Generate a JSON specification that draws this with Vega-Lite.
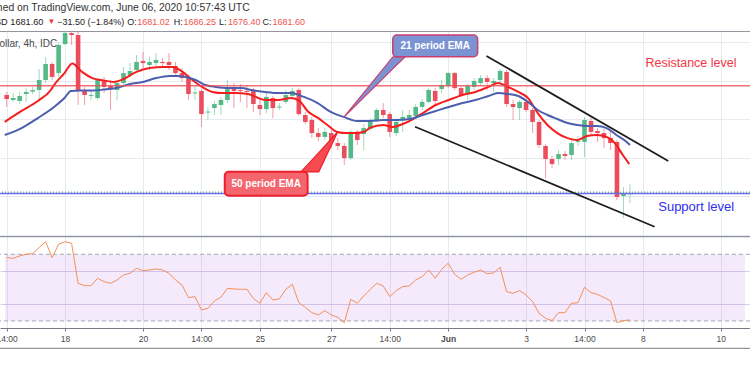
{
"$schema": "https://vega.github.io/schema/vega-lite/v6.json",
"width": 750, "height": 328,
"autosize": {"type": "none"},
"padding": {"left": 0, "top": 0, "right": 0, "bottom": 47},
"background": "white",
"config": {"view": {"stroke": null}, "font": "Liberation Sans", "axis": {"titleOpacity": 0}},
"datasets": {
"candles": [
{"i":0,"o":1732.6,"h":1734.2,"l":1726.4,"c":1730.5},
{"i":1,"o":1730.0,"h":1733.6,"l":1729.0,"c":1731.0},
{"i":2,"o":1729.5,"h":1734.2,"l":1727.9,"c":1732.1},
{"i":3,"o":1733.1,"h":1736.2,"l":1729.0,"c":1734.2},
{"i":4,"o":1734.4,"h":1736.8,"l":1733.1,"c":1735.2},
{"i":5,"o":1735.2,"h":1746.1,"l":1729.0,"c":1740.4},
{"i":6,"o":1740.4,"h":1752.4,"l":1738.8,"c":1748.7},
{"i":7,"o":1748.7,"h":1749.8,"l":1740.4,"c":1742.0},
{"i":8,"o":1744.0,"h":1759.6,"l":1742.0,"c":1758.6},
{"i":9,"o":1759.1,"h":1765.4,"l":1758.6,"c":1764.8},
{"i":10,"o":1764.8,"h":1765.4,"l":1758.6,"c":1763.8},
{"i":11,"o":1763.8,"h":1765.4,"l":1727.4,"c":1735.2},
{"i":12,"o":1735.2,"h":1736.8,"l":1727.4,"c":1732.6},
{"i":13,"o":1732.1,"h":1735.2,"l":1730.0,"c":1732.6},
{"i":14,"o":1731.0,"h":1741.4,"l":1730.0,"c":1740.4},
{"i":15,"o":1740.4,"h":1742.0,"l":1733.6,"c":1736.8},
{"i":16,"o":1737.3,"h":1740.4,"l":1724.8,"c":1735.7},
{"i":17,"o":1735.2,"h":1740.4,"l":1730.0,"c":1738.8},
{"i":18,"o":1738.8,"h":1747.2,"l":1737.8,"c":1744.0},
{"i":19,"o":1743.0,"h":1749.2,"l":1742.0,"c":1745.1},
{"i":20,"o":1745.6,"h":1753.4,"l":1744.6,"c":1749.8},
{"i":21,"o":1750.3,"h":1755.0,"l":1746.6,"c":1749.2},
{"i":22,"o":1748.2,"h":1752.4,"l":1745.6,"c":1749.8},
{"i":23,"o":1749.2,"h":1754.4,"l":1747.7,"c":1750.8},
{"i":24,"o":1749.8,"h":1751.8,"l":1746.6,"c":1749.2},
{"i":25,"o":1749.8,"h":1754.4,"l":1745.6,"c":1748.2},
{"i":26,"o":1747.7,"h":1749.8,"l":1742.0,"c":1744.0},
{"i":27,"o":1744.0,"h":1746.6,"l":1739.4,"c":1741.4},
{"i":28,"o":1742.0,"h":1743.0,"l":1730.0,"c":1733.1},
{"i":29,"o":1733.4,"h":1737.8,"l":1730.0,"c":1733.9},
{"i":30,"o":1734.7,"h":1735.7,"l":1716.0,"c":1722.7},
{"i":31,"o":1723.5,"h":1726.4,"l":1719.6,"c":1724.0},
{"i":32,"o":1725.8,"h":1729.5,"l":1722.2,"c":1727.9},
{"i":33,"o":1727.4,"h":1731.6,"l":1722.2,"c":1730.0},
{"i":34,"o":1730.0,"h":1740.4,"l":1728.4,"c":1735.7},
{"i":35,"o":1735.7,"h":1738.8,"l":1725.8,"c":1734.7},
{"i":36,"o":1735.2,"h":1738.3,"l":1729.0,"c":1734.7},
{"i":37,"o":1734.7,"h":1737.8,"l":1725.8,"c":1734.2},
{"i":38,"o":1734.7,"h":1736.2,"l":1723.8,"c":1727.9},
{"i":39,"o":1727.4,"h":1730.0,"l":1722.2,"c":1725.3},
{"i":40,"o":1725.3,"h":1734.2,"l":1723.2,"c":1731.6},
{"i":41,"o":1731.0,"h":1732.1,"l":1720.6,"c":1725.8},
{"i":42,"o":1726.1,"h":1728.4,"l":1724.8,"c":1726.6},
{"i":43,"o":1729.0,"h":1735.2,"l":1727.9,"c":1732.6},
{"i":44,"o":1732.1,"h":1736.2,"l":1731.0,"c":1734.7},
{"i":45,"o":1735.2,"h":1736.2,"l":1721.7,"c":1722.7},
{"i":46,"o":1722.2,"h":1723.8,"l":1717.5,"c":1718.6},
{"i":47,"o":1719.6,"h":1721.2,"l":1710.2,"c":1712.8},
{"i":48,"o":1712.8,"h":1715.4,"l":1708.7,"c":1710.8},
{"i":49,"o":1710.8,"h":1715.4,"l":1709.2,"c":1713.4},
{"i":50,"o":1712.8,"h":1714.4,"l":1705.0,"c":1708.2},
{"i":51,"o":1707.6,"h":1710.2,"l":1704.0,"c":1706.1},
{"i":52,"o":1706.1,"h":1707.6,"l":1696.2,"c":1699.8},
{"i":53,"o":1699.8,"h":1714.4,"l":1698.8,"c":1713.4},
{"i":54,"o":1713.4,"h":1714.4,"l":1706.6,"c":1709.2},
{"i":55,"o":1712.3,"h":1717.5,"l":1704.0,"c":1715.4},
{"i":56,"o":1714.9,"h":1720.6,"l":1713.9,"c":1719.1},
{"i":57,"o":1719.1,"h":1725.8,"l":1718.6,"c":1724.8},
{"i":58,"o":1724.8,"h":1728.4,"l":1720.6,"c":1722.2},
{"i":59,"o":1722.7,"h":1723.8,"l":1710.8,"c":1713.4},
{"i":60,"o":1712.8,"h":1720.6,"l":1711.3,"c":1718.6},
{"i":61,"o":1719.6,"h":1724.8,"l":1713.4,"c":1721.2},
{"i":62,"o":1720.6,"h":1724.8,"l":1719.6,"c":1722.2},
{"i":63,"o":1721.7,"h":1727.9,"l":1720.1,"c":1726.4},
{"i":64,"o":1726.4,"h":1730.5,"l":1724.8,"c":1729.0},
{"i":65,"o":1729.0,"h":1736.2,"l":1728.4,"c":1735.2},
{"i":66,"o":1734.7,"h":1736.2,"l":1726.9,"c":1729.5},
{"i":67,"o":1735.7,"h":1740.4,"l":1733.6,"c":1737.8},
{"i":68,"o":1737.3,"h":1744.6,"l":1736.2,"c":1744.0},
{"i":69,"o":1744.0,"h":1744.6,"l":1735.2,"c":1736.2},
{"i":70,"o":1736.2,"h":1737.3,"l":1731.6,"c":1732.6},
{"i":71,"o":1733.6,"h":1738.3,"l":1730.0,"c":1737.3},
{"i":72,"o":1736.8,"h":1741.4,"l":1735.2,"c":1739.9},
{"i":73,"o":1738.8,"h":1743.0,"l":1737.3,"c":1741.4},
{"i":74,"o":1741.4,"h":1743.0,"l":1735.2,"c":1739.4},
{"i":75,"o":1738.8,"h":1741.4,"l":1734.2,"c":1739.9},
{"i":76,"o":1740.4,"h":1746.1,"l":1737.8,"c":1745.1},
{"i":77,"o":1744.6,"h":1745.6,"l":1726.4,"c":1727.9},
{"i":78,"o":1727.9,"h":1730.0,"l":1719.6,"c":1726.4},
{"i":79,"o":1725.8,"h":1730.0,"l":1719.6,"c":1729.0},
{"i":80,"o":1729.0,"h":1729.5,"l":1723.8,"c":1724.8},
{"i":81,"o":1724.8,"h":1725.8,"l":1712.8,"c":1718.6},
{"i":82,"o":1718.6,"h":1719.6,"l":1705.0,"c":1706.6},
{"i":83,"o":1706.1,"h":1707.1,"l":1689.4,"c":1699.3},
{"i":84,"o":1699.3,"h":1700.9,"l":1694.6,"c":1696.7},
{"i":85,"o":1699.3,"h":1704.0,"l":1696.2,"c":1701.9},
{"i":86,"o":1701.9,"h":1703.5,"l":1698.8,"c":1700.9},
{"i":87,"o":1701.4,"h":1709.2,"l":1698.8,"c":1707.6},
{"i":88,"o":1708.2,"h":1711.3,"l":1706.1,"c":1708.7},
{"i":89,"o":1708.2,"h":1721.2,"l":1700.4,"c":1719.6},
{"i":90,"o":1719.1,"h":1720.6,"l":1711.8,"c":1713.4},
{"i":91,"o":1713.9,"h":1715.4,"l":1708.2,"c":1712.8},
{"i":92,"o":1712.8,"h":1714.9,"l":1705.0,"c":1710.2},
{"i":93,"o":1710.2,"h":1713.4,"l":1704.0,"c":1707.6},
{"i":94,"o":1708.2,"h":1709.2,"l":1678.0,"c":1679.6},
{"i":95,"o":1680.1,"h":1684.8,"l":1668.6,"c":1681.6},
{"i":96,"o":1681.02,"h":1686.25,"l":1676.4,"c":1681.6}
],
"ema": [
{"s":"EMA 50","i":-0.3,"p":1718.6},{"s":"EMA 50","i":2.3,"p":1724.3},{"s":"EMA 50","i":4.8,"p":1729.5},{"s":"EMA 50","i":6.8,"p":1735.2},{"s":"EMA 50","i":7.3,"p":1737.8},{"s":"EMA 50","i":8.9,"p":1744.0},{"s":"EMA 50","i":10.1,"p":1749.0},{"s":"EMA 50","i":11.6,"p":1744.6},{"s":"EMA 50","i":13.2,"p":1741.4},{"s":"EMA 50","i":14.9,"p":1740.2},{"s":"EMA 50","i":16.5,"p":1739.4},{"s":"EMA 50","i":18.0,"p":1740.9},{"s":"EMA 50","i":20.0,"p":1744.6},{"s":"EMA 50","i":22.0,"p":1746.6},{"s":"EMA 50","i":24.1,"p":1747.2},{"s":"EMA 50","i":25.6,"p":1747.2},{"s":"EMA 50","i":27.1,"p":1744.6},{"s":"EMA 50","i":28.6,"p":1740.4},{"s":"EMA 50","i":30.1,"p":1736.8},{"s":"EMA 50","i":31.7,"p":1734.2},{"s":"EMA 50","i":33.2,"p":1733.6},{"s":"EMA 50","i":35.2,"p":1733.6},{"s":"EMA 50","i":37.2,"p":1733.1},{"s":"EMA 50","i":39.8,"p":1730.0},{"s":"EMA 50","i":41.8,"p":1730.0},{"s":"EMA 50","i":43.8,"p":1731.0},{"s":"EMA 50","i":45.1,"p":1729.5},{"s":"EMA 50","i":46.4,"p":1724.0},{"s":"EMA 50","i":47.9,"p":1720.8},{"s":"EMA 50","i":49.4,"p":1717.0},{"s":"EMA 50","i":50.9,"p":1713.4},{"s":"EMA 50","i":52.4,"p":1712.8},{"s":"EMA 50","i":53.4,"p":1712.8},{"s":"EMA 50","i":55.0,"p":1713.4},{"s":"EMA 50","i":56.0,"p":1715.6},{"s":"EMA 50","i":58.0,"p":1717.0},{"s":"EMA 50","i":59.5,"p":1716.0},{"s":"EMA 50","i":61.0,"p":1717.5},{"s":"EMA 50","i":62.6,"p":1720.1},{"s":"EMA 50","i":64.1,"p":1723.2},{"s":"EMA 50","i":66.1,"p":1727.4},{"s":"EMA 50","i":68.1,"p":1730.0},{"s":"EMA 50","i":70.2,"p":1732.6},{"s":"EMA 50","i":72.2,"p":1734.2},{"s":"EMA 50","i":74.2,"p":1736.8},{"s":"EMA 50","i":75.7,"p":1738.8},{"s":"EMA 50","i":77.2,"p":1736.8},{"s":"EMA 50","i":78.8,"p":1734.2},{"s":"EMA 50","i":80.3,"p":1731.0},{"s":"EMA 50","i":81.8,"p":1723.2},{"s":"EMA 50","i":83.3,"p":1717.0},{"s":"EMA 50","i":84.8,"p":1712.8},{"s":"EMA 50","i":86.4,"p":1710.2},{"s":"EMA 50","i":87.9,"p":1709.2},{"s":"EMA 50","i":89.4,"p":1711.3},{"s":"EMA 50","i":90.9,"p":1711.8},{"s":"EMA 50","i":92.4,"p":1710.8},{"s":"EMA 50","i":93.9,"p":1706.6},{"s":"EMA 50","i":94.9,"p":1701.4},{"s":"EMA 50","i":95.9,"p":1696.7},
{"s":"EMA 21","i":-0.3,"p":1711.8},{"s":"EMA 21","i":2.3,"p":1715.4},{"s":"EMA 21","i":4.8,"p":1720.6},{"s":"EMA 21","i":7.3,"p":1726.4},{"s":"EMA 21","i":8.9,"p":1731.0},{"s":"EMA 21","i":9.9,"p":1734.7},{"s":"EMA 21","i":11.4,"p":1734.9},{"s":"EMA 21","i":13.2,"p":1734.9},{"s":"EMA 21","i":14.9,"p":1735.4},{"s":"EMA 21","i":17.0,"p":1736.4},{"s":"EMA 21","i":19.0,"p":1738.3},{"s":"EMA 21","i":21.0,"p":1739.4},{"s":"EMA 21","i":23.0,"p":1741.4},{"s":"EMA 21","i":25.1,"p":1742.5},{"s":"EMA 21","i":26.1,"p":1742.5},{"s":"EMA 21","i":27.6,"p":1742.0},{"s":"EMA 21","i":29.1,"p":1740.4},{"s":"EMA 21","i":30.6,"p":1737.8},{"s":"EMA 21","i":32.2,"p":1736.8},{"s":"EMA 21","i":34.2,"p":1736.2},{"s":"EMA 21","i":36.2,"p":1736.2},{"s":"EMA 21","i":37.7,"p":1735.2},{"s":"EMA 21","i":39.8,"p":1734.2},{"s":"EMA 21","i":41.8,"p":1733.6},{"s":"EMA 21","i":43.8,"p":1733.6},{"s":"EMA 21","i":45.8,"p":1731.6},{"s":"EMA 21","i":47.9,"p":1728.4},{"s":"EMA 21","i":49.9,"p":1723.8},{"s":"EMA 21","i":51.9,"p":1721.2},{"s":"EMA 21","i":54.0,"p":1719.1},{"s":"EMA 21","i":56.0,"p":1719.1},{"s":"EMA 21","i":58.0,"p":1719.6},{"s":"EMA 21","i":60.0,"p":1719.6},{"s":"EMA 21","i":62.1,"p":1720.1},{"s":"EMA 21","i":64.1,"p":1722.2},{"s":"EMA 21","i":66.1,"p":1724.3},{"s":"EMA 21","i":68.1,"p":1726.4},{"s":"EMA 21","i":70.2,"p":1728.4},{"s":"EMA 21","i":72.2,"p":1730.0},{"s":"EMA 21","i":74.2,"p":1732.1},{"s":"EMA 21","i":75.7,"p":1733.6},{"s":"EMA 21","i":77.2,"p":1733.1},{"s":"EMA 21","i":78.8,"p":1732.1},{"s":"EMA 21","i":80.3,"p":1729.0},{"s":"EMA 21","i":81.8,"p":1724.8},{"s":"EMA 21","i":83.3,"p":1722.2},{"s":"EMA 21","i":84.8,"p":1720.1},{"s":"EMA 21","i":86.4,"p":1718.0},{"s":"EMA 21","i":87.9,"p":1717.0},{"s":"EMA 21","i":89.4,"p":1716.5},{"s":"EMA 21","i":90.9,"p":1716.5},{"s":"EMA 21","i":92.4,"p":1715.4},{"s":"EMA 21","i":93.9,"p":1711.8},{"s":"EMA 21","i":95.5,"p":1708.2},{"s":"EMA 21","i":96.0,"p":1706.6}
],
"rsi": [
{"i":0,"r":68.0},{"i":1,"r":67.6},{"i":2,"r":69.0},{"i":3,"r":70.0},{"i":4,"r":70.4},{"i":5,"r":74.0},{"i":6,"r":77.6},{"i":7,"r":68.0},{"i":8,"r":76.0},{"i":9,"r":77.6},
{"i":10,"r":76.6},{"i":11,"r":52.6},{"i":12,"r":51.2},{"i":13,"r":51.2},{"i":14,"r":55.6},{"i":15,"r":53.6},{"i":16,"r":52.6},{"i":17,"r":54.6},{"i":18,"r":57.6},{"i":19,"r":58.6},
{"i":20,"r":61.6},{"i":21,"r":60.2},{"i":22,"r":60.6},{"i":23,"r":61.2},{"i":24,"r":60.6},{"i":25,"r":58.6},{"i":26,"r":54.6},{"i":27,"r":51.6},{"i":28,"r":44.0},{"i":29,"r":44.6},
{"i":30,"r":36.6},{"i":31,"r":37.6},{"i":32,"r":42.0},{"i":33,"r":44.2},{"i":34,"r":49.6},{"i":35,"r":49.2},{"i":36,"r":49.0},{"i":37,"r":49.0},{"i":38,"r":43.5},{"i":39,"r":40.6},
{"i":40,"r":47.0},{"i":41,"r":42.6},{"i":42,"r":43.2},{"i":43,"r":49.0},{"i":44,"r":52.0},{"i":45,"r":41.0},{"i":46,"r":38.2},{"i":47,"r":35.0},{"i":48,"r":33.6},{"i":49,"r":36.2},
{"i":50,"r":33.6},{"i":51,"r":32.2},{"i":52,"r":29.0},{"i":53,"r":43.0},{"i":54,"r":40.6},{"i":55,"r":45.0},{"i":56,"r":49.0},{"i":57,"r":52.6},{"i":58,"r":51.0},{"i":59,"r":44.6},
{"i":60,"r":48.2},{"i":61,"r":50.6},{"i":62,"r":51.0},{"i":63,"r":54.6},{"i":64,"r":56.6},{"i":65,"r":60.6},{"i":66,"r":55.6},{"i":67,"r":61.0},{"i":68,"r":64.6},{"i":69,"r":58.0},
{"i":70,"r":55.0},{"i":71,"r":57.6},{"i":72,"r":59.2},{"i":73,"r":60.6},{"i":74,"r":58.4},{"i":75,"r":58.8},{"i":76,"r":62.2},{"i":77,"r":47.6},{"i":78,"r":46.6},{"i":79,"r":48.2},
{"i":80,"r":45.6},{"i":81,"r":41.6},{"i":82,"r":34.6},{"i":83,"r":31.6},{"i":84,"r":30.2},{"i":85,"r":35.0},{"i":86,"r":35.0},{"i":87,"r":40.6},{"i":88,"r":41.0},{"i":89,"r":50.2},
{"i":90,"r":47.0},{"i":91,"r":46.0},{"i":92,"r":44.0},{"i":93,"r":42.2},{"i":94,"r":29.0},{"i":95,"r":30.2},{"i":96,"r":30.6}
],
"ptr21": [{"i":51.91,"top":1721.0,"bot":1721.0},{"i":59.5,"top":1752.5,"bot":1746.3},{"i":61.37,"top":1752.5,"bot":1752.5}],
"ptr50": [{"i":45.33,"top":1692.6,"bot":1692.6},{"i":48.07,"top":1702.6,"bot":1692.6},{"i":51.0,"top":1713.5,"bot":1713.5}]
},
"resolve": {"scale": {"y": "independent"}},
"layer": [
{
"layer": [
{"data": {"values": [{}]}, "mark": {"type": "rect", "color": "white"},
 "encoding": {"x": {"datum": -0.258, "type": "quantitative"}, "x2": {"datum": 113.72}, "y": {"datum": 1782, "type": "quantitative"}, "y2": {"datum": 1765.9}}},
{"data": {"values": [{}]}, "mark": {"type": "rule", "color": "#8f929b", "strokeWidth": 1},
 "encoding": {"y": {"datum": 1765.6, "type": "quantitative"}}},
{"data": {"values": [{}]}, "mark": {"type": "text", "text": "Gold Spot / U.S. Dollar, 4h, IDC", "align": "right", "baseline": "middle", "fontSize": 10, "color": "#4a4a4a"},
 "encoding": {"x": {"datum": 7.8, "type": "quantitative"}, "y": {"datum": 1759.1, "type": "quantitative"}}},
{"data": {"name": "candles"}, "mark": {"type": "rule", "strokeWidth": 1, "opacity": 0.55},
 "encoding": {
  "x": {"field": "i", "type": "quantitative", "scale": {"domain": [-0.258, 113.72], "nice": false, "zero": false}},
  "y": {"field": "l", "type": "quantitative", "scale": {"domain": [1611.44, 1782], "nice": false, "zero": false},
        "axis": {"values": [1660, 1680, 1700, 1720, 1740, 1760], "grid": true, "gridColor": "#e6ebf2", "labels": false, "ticks": false, "domain": false, "title": null}},
  "y2": {"field": "h"},
  "color": {"condition": {"test": "datum.c >= datum.o", "value": "#53b987"}, "value": "#eb4d5c"}}},
{"data": {"name": "candles"}, "mark": {"type": "bar", "size": 4.6, "orient": "vertical"},
 "encoding": {
  "x": {"field": "i", "type": "quantitative"},
  "y": {"field": "o", "type": "quantitative"},
  "y2": {"field": "c"},
  "color": {"condition": {"test": "datum.c >= datum.o", "value": "#53b987"}, "value": "#eb4d5c"}}},
{"data": {"name": "ema"}, "mark": {"type": "line", "strokeWidth": 2, "interpolate": "monotone"},
 "encoding": {
  "x": {"field": "i", "type": "quantitative"},
  "y": {"field": "p", "type": "quantitative"},
  "color": {"field": "s", "type": "nominal", "scale": {"domain": ["EMA 21", "EMA 50"], "range": ["#4b5fae", "#f51e1e"]}, "legend": null}}},
{"data": {"values": [{}]}, "mark": {"type": "rule", "color": "#f04a55", "strokeWidth": 1.6, "opacity": 0.8},
 "encoding": {"y": {"datum": 1737.4, "type": "quantitative"}}},
{"data": {"values": [{}]}, "mark": {"type": "rule", "color": "#6a6af2", "strokeWidth": 1.5},
 "encoding": {"y": {"datum": 1681.4, "type": "quantitative"}}},
{"data": {"values": [{}]}, "mark": {"type": "rule", "color": "#43a047", "strokeWidth": 1, "strokeDash": [1, 2]},
 "encoding": {"y": {"datum": 1682.1, "type": "quantitative"}}},
{"data": {"values": [{}]}, "mark": {"type": "rule", "color": "#1e1e1e", "strokeWidth": 1.8},
 "encoding": {"x": {"datum": 73.9, "type": "quantitative"}, "x2": {"datum": 101.9}, "y": {"datum": 1752.9, "type": "quantitative"}, "y2": {"datum": 1698.3}}},
{"data": {"values": [{}]}, "mark": {"type": "rule", "color": "#1e1e1e", "strokeWidth": 1.8},
 "encoding": {"x": {"datum": 62.9, "type": "quantitative"}, "x2": {"datum": 99.8}, "y": {"datum": 1716.1, "type": "quantitative"}, "y2": {"datum": 1664.1}}},
{"data": {"name": "ptr21"}, "mark": {"type": "area", "fill": "#7b92d3", "stroke": "#c8416e", "strokeWidth": 1.2, "orient": "vertical"},
 "encoding": {"x": {"field": "i", "type": "quantitative"}, "y": {"field": "top", "type": "quantitative"}, "y2": {"field": "bot"}}},
{"data": {"values": [{}]}, "mark": {"type": "rect", "fill": "#7b92d3", "stroke": "#c8416e", "strokeWidth": 1.5, "cornerRadius": 4},
 "encoding": {"x": {"datum": 59.47, "type": "quantitative"}, "x2": {"datum": 72.54}, "y": {"datum": 1763.8, "type": "quantitative"}, "y2": {"datum": 1752.5}}},
{"data": {"values": [{}]}, "mark": {"type": "text", "text": "21 period EMA", "align": "center", "baseline": "middle", "fontSize": 10, "fontWeight": "bold", "color": "white"},
 "encoding": {"x": {"datum": 66.0, "type": "quantitative"}, "y": {"datum": 1758.2, "type": "quantitative"}}},
{"data": {"name": "ptr50"}, "mark": {"type": "area", "fill": "#f54a50", "stroke": "#f01e2c", "strokeWidth": 1.2, "orient": "vertical"},
 "encoding": {"x": {"field": "i", "type": "quantitative"}, "y": {"field": "top", "type": "quantitative"}, "y2": {"field": "bot"}}},
{"data": {"values": [{}]}, "mark": {"type": "rect", "fill": "#f4666e", "stroke": "#f01e2c", "strokeWidth": 2, "cornerRadius": 4},
 "encoding": {"x": {"datum": 33.59, "type": "quantitative"}, "x2": {"datum": 46.35}, "y": {"datum": 1692.7, "type": "quantitative"}, "y2": {"datum": 1680.2}}},
{"data": {"values": [{}]}, "mark": {"type": "text", "text": "50 period EMA", "align": "center", "baseline": "middle", "fontSize": 10, "fontWeight": "bold", "color": "white"},
 "encoding": {"x": {"datum": 39.97, "type": "quantitative"}, "y": {"datum": 1686.5, "type": "quantitative"}}},
{"data": {"values": [{}]}, "mark": {"type": "text", "text": "Resistance level", "align": "center", "baseline": "middle", "fontSize": 12.5, "color": "#f23645"},
 "encoding": {"x": {"datum": 105.4, "type": "quantitative"}, "y": {"datum": 1749.0, "type": "quantitative"}}},
{"data": {"values": [{}]}, "mark": {"type": "text", "text": "Support level", "align": "center", "baseline": "middle", "fontSize": 13, "color": "#2e2ef0"},
 "encoding": {"x": {"datum": 106.2, "type": "quantitative"}, "y": {"datum": 1674.6, "type": "quantitative"}}},
{"data": {"values": [{}]}, "mark": {"type": "text", "text": "Published on TradingView.com, June 06, 2020 10:57:43 UTC", "align": "right", "baseline": "middle", "fontSize": 10.4, "color": "#333333"},
 "encoding": {"x": {"datum": 37.43, "type": "quantitative"}, "y": {"datum": 1777.9, "type": "quantitative"}}},
{"data": {"values": [{}]}, "mark": {"type": "text", "text": "IDC:XAUUSD 1681.60", "align": "right", "baseline": "middle", "fontSize": 9.2, "color": "#222222"},
 "encoding": {"x": {"datum": 5.67, "type": "quantitative"}, "y": {"datum": 1770.6, "type": "quantitative"}}},
{"data": {"values": [{}]}, "mark": {"type": "text", "text": "▼", "align": "left", "baseline": "middle", "fontSize": 8, "color": "#f23645"},
 "encoding": {"x": {"datum": 6.28, "type": "quantitative"}, "y": {"datum": 1770.6, "type": "quantitative"}}},
{"data": {"values": [{}]}, "mark": {"type": "text", "text": "−31.50 (−1.84%)", "align": "left", "baseline": "middle", "fontSize": 9, "color": "#222222"},
 "encoding": {"x": {"datum": 7.8, "type": "quantitative"}, "y": {"datum": 1770.6, "type": "quantitative"}}},
{"data": {"values": [{}]}, "mark": {"type": "text", "text": "O:", "align": "left", "baseline": "middle", "fontSize": 9, "color": "#222222"},
 "encoding": {"x": {"datum": 18.59, "type": "quantitative"}, "y": {"datum": 1770.6, "type": "quantitative"}}},
{"data": {"values": [{}]}, "mark": {"type": "text", "text": "1681.02", "align": "left", "baseline": "middle", "fontSize": 9, "color": "#ef5350"},
 "encoding": {"x": {"datum": 20.11, "type": "quantitative"}, "y": {"datum": 1770.6, "type": "quantitative"}}},
{"data": {"values": [{}]}, "mark": {"type": "text", "text": "H:", "align": "left", "baseline": "middle", "fontSize": 9, "color": "#222222"},
 "encoding": {"x": {"datum": 25.73, "type": "quantitative"}, "y": {"datum": 1770.6, "type": "quantitative"}}},
{"data": {"values": [{}]}, "mark": {"type": "text", "text": "1686.25", "align": "left", "baseline": "middle", "fontSize": 9, "color": "#ef5350"},
 "encoding": {"x": {"datum": 27.25, "type": "quantitative"}, "y": {"datum": 1770.6, "type": "quantitative"}}},
{"data": {"values": [{}]}, "mark": {"type": "text", "text": "L:", "align": "left", "baseline": "middle", "fontSize": 9, "color": "#222222"},
 "encoding": {"x": {"datum": 32.72, "type": "quantitative"}, "y": {"datum": 1770.6, "type": "quantitative"}}},
{"data": {"values": [{}]}, "mark": {"type": "text", "text": "1676.40", "align": "left", "baseline": "middle", "fontSize": 9, "color": "#ef5350"},
 "encoding": {"x": {"datum": 34.09, "type": "quantitative"}, "y": {"datum": 1770.6, "type": "quantitative"}}},
{"data": {"values": [{}]}, "mark": {"type": "text", "text": "C:", "align": "left", "baseline": "middle", "fontSize": 9, "color": "#222222"},
 "encoding": {"x": {"datum": 39.41, "type": "quantitative"}, "y": {"datum": 1770.6, "type": "quantitative"}}},
{"data": {"values": [{}]}, "mark": {"type": "text", "text": "1681.60", "align": "left", "baseline": "middle", "fontSize": 9, "color": "#ef5350"},
 "encoding": {"x": {"datum": 40.93, "type": "quantitative"}, "y": {"datum": 1770.6, "type": "quantitative"}}}
]
},
{
"layer": [
{"data": {"values": [{}]}, "mark": {"type": "rect", "fill": "#b058eb", "opacity": 0.13},
 "encoding": {"x": {"datum": -0.258, "type": "quantitative"}, "x2": {"datum": 113.72}, "y": {"datum": 70, "type": "quantitative"}, "y2": {"datum": 30}}},
{"data": {"values": [{}]}, "mark": {"type": "rule", "color": "#a5a8b1", "strokeWidth": 1, "strokeDash": [4, 3]},
 "encoding": {"y": {"datum": 70, "type": "quantitative"}}},
{"data": {"values": [{}]}, "mark": {"type": "rule", "color": "#a5a8b1", "strokeWidth": 1, "strokeDash": [4, 3]},
 "encoding": {"y": {"datum": 30, "type": "quantitative"}}},
{"data": {"name": "rsi"}, "mark": {"type": "line", "strokeWidth": 1, "color": "#f39058"},
 "encoding": {
  "x": {"field": "i", "type": "quantitative",
        "axis": {"values": [0, 9, 21, 30, 39, 50, 59, 68, 80, 89, 98, 110],
                 "labelExpr": "datum.value==0?'14:00':datum.value==9?'18':datum.value==21?'20':datum.value==30?'14:00':datum.value==39?'25':datum.value==50?'27':datum.value==59?'14:00':datum.value==68?'Jun':datum.value==80?'3':datum.value==89?'14:00':datum.value==98?'8':'10'",
                 "grid": true, "gridColor": "#e6ebf2", "tickSize": 3, "tickColor": "#787b86", "domain": true, "domainColor": "#787b86",
                 "labels": true, "labelFontSize": 8.5, "labelColor": "#4a4a4a", "labelPadding": 3, "labelFlush": false, "labelOverlap": false,
                 "labelFontWeight": {"condition": {"test": "datum.value == 68", "value": "bold"}, "value": "normal"}, "title": null}},
  "y": {"field": "r", "type": "quantitative", "scale": {"domain": [25.78, 222.58], "nice": false, "zero": false},
        "axis": {"values": [40, 60], "grid": true, "gridColor": "#d6cfe8", "labels": false, "ticks": false, "domain": false, "title": null}}}},
{"data": {"values": [{}]}, "mark": {"type": "rule", "color": "#787b86", "strokeWidth": 1},
 "encoding": {"y": {"datum": 80.56, "type": "quantitative"}}},
{"data": {"values": [{}]}, "mark": {"type": "rule", "color": "#787b86", "strokeWidth": 1},
 "encoding": {"y": {"datum": 13.6, "type": "quantitative"}}}
]
}
]
}
